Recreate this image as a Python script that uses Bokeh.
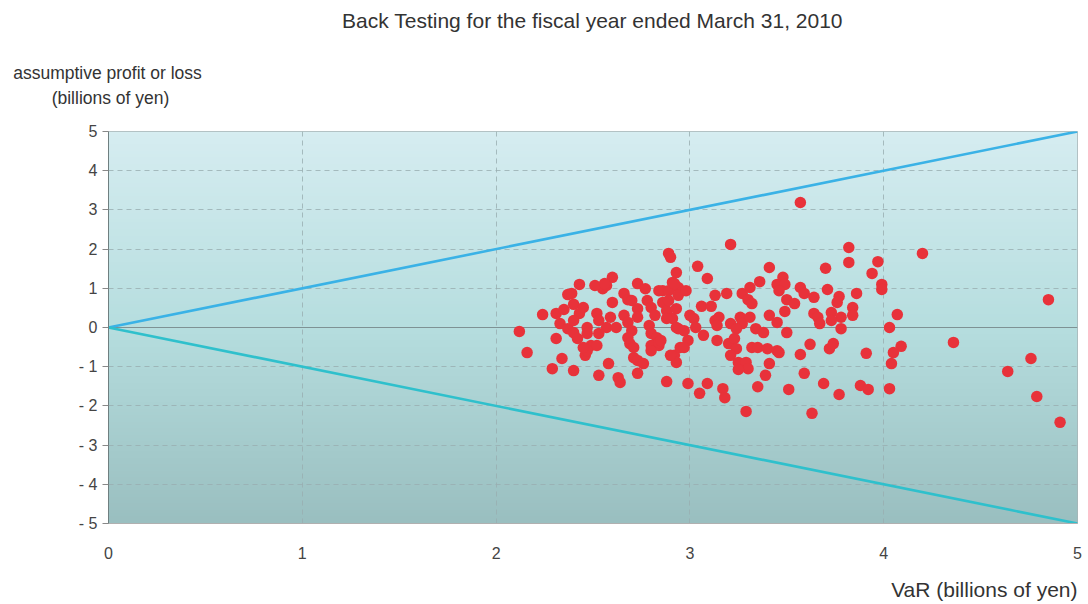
import numpy as np
from bokeh.plotting import figure
from bokeh.models import Span, FixedTicker, Range1d
from bokeh.layouts import column
from bokeh.core.properties import value
from bokeh.embed import file_html
from bokeh.resources import INLINE

# ---- data ----
var_values = [
    2.12, 2.16, 2.29, 2.40, 2.34, 2.24, 2.31, 2.35, 2.37, 2.39, 2.40, 2.43, 2.45, 2.43, 2.33, 2.37,
    2.40, 2.42, 2.40, 2.47, 2.47, 2.52, 2.53, 2.49, 2.52, 2.46, 2.47, 2.58, 2.53, 2.63, 2.64, 2.73,
    2.88, 2.55, 2.57, 2.60, 2.60, 2.59, 2.57, 2.62, 2.66, 2.68, 2.66, 2.68, 2.70, 2.73, 2.73, 2.73,
    2.68, 2.69, 2.71, 2.73, 2.76, 2.71, 2.77, 2.78, 2.80, 2.82, 2.79, 2.80, 2.83, 2.80, 2.84, 2.80,
    2.86, 2.86, 2.89, 2.90, 2.93, 2.91, 2.94, 2.88, 2.91, 2.94, 2.92, 2.93, 2.51, 2.56, 2.70, 2.84,
    2.89, 2.92, 2.94, 2.84, 2.53, 2.95, 2.99, 2.31, 2.45,
    3.57, 3.21, 3.82, 3.82, 3.97, 3.04, 3.41, 3.70, 3.94, 3.09, 3.36, 3.48, 3.45, 3.49, 3.46, 3.57,
    3.59, 3.64, 3.71, 3.77, 3.76, 3.86, 3.84, 3.84, 3.99, 3.99, 3.31, 3.27, 3.30, 3.32, 3.19, 3.13,
    3.50, 3.54, 3.49, 3.06, 3.11, 2.98, 2.89, 2.93, 2.88, 3.00, 3.02, 3.13, 3.15, 3.14, 3.21, 3.26,
    3.27, 3.31, 3.24, 3.41, 3.45, 3.64, 3.66, 3.67, 3.73, 3.78, 3.73, 3.78, 2.93, 2.97, 3.03, 3.07,
    2.85, 2.97, 2.90, 3.14, 3.20, 3.23, 3.24, 3.21, 3.25, 3.29, 3.30, 3.25, 3.32, 3.35, 3.34, 3.38,
    3.40, 3.45, 3.46, 3.41, 3.50, 3.57, 3.62, 3.59, 3.72, 3.74, 3.39, 2.99, 3.05, 3.09, 3.17, 3.18,
    3.35, 3.51, 3.69, 3.77, 3.88, 3.92, 3.29, 3.63, 3.91,
    4.20, 4.07, 4.03, 4.09, 4.05, 4.04, 4.03, 4.36, 4.64, 4.76, 4.79, 4.85, 4.91,
]
profit_loss = [
    -0.10, -0.64, -1.05, -1.10, -0.79, 0.33, 0.36, 0.46, 0.84, 0.87, 0.59, 1.10, 0.51, 0.36, 0.10, -0.03,
    -0.13, -0.28, 0.18, 0.00, -0.15, 0.36, 0.18, -0.46, -0.46, -0.71, -0.59, -0.92, -1.22, -1.28, -1.40, -1.17,
    -1.38, 0.99, 1.07, 1.28, 0.64, 0.26, 0.00, 0.00, 0.87, 0.71, 0.31, 0.13, -0.08, 1.12, 0.48, 0.26,
    -0.26, -0.41, -0.77, -0.84, -0.92, -0.51, 0.99, 0.69, 0.51, 0.31, 0.05, -0.15, -0.26, -0.46, -0.46, -0.59,
    0.94, 0.64, 1.89, 1.79, 1.40, 1.15, 1.02, 0.43, 0.23, -0.03, -0.71, -0.89, 1.07, 1.12, 0.69, 0.94,
    0.94, 1.12, 0.82, -0.38, -0.15, -0.51, -0.33, -0.28, -0.51,
    3.19, 2.12, 2.04, 1.66, 1.68, 1.56, 1.53, 1.51, 1.38, 1.25, 1.17, 1.28, 1.10, 1.10, 0.94, 1.02,
    0.87, 0.77, 0.97, 0.79, 0.64, 0.87, 0.51, 0.31, 1.10, 0.97, 1.02, 0.87, 0.71, 0.61, 0.87, 0.82,
    0.71, 0.61, 0.41, 0.54, 0.54, 0.94, 0.69, 0.48, 0.23, 0.31, 0.23, 0.18, 0.26, 0.05, 0.10, 0.26,
    0.10, 0.26, -0.03, 0.31, 0.13, 0.36, 0.26, 0.10, 0.38, 0.26, 0.18, -0.03, 0.00, -0.08, 0.00, -0.20,
    -0.33, -0.51, -0.71, -0.33, -0.41, -0.28, -0.54, -0.71, -0.89, -0.89, -1.05, -1.07, -0.51, -0.51, -0.03, -0.13,
    -0.54, -0.59, -0.64, -0.92, -0.13, -0.69, -0.43, -1.17, -0.54, -0.41, -1.22, -1.43, -1.68, -1.43, -1.56, -1.79,
    -1.51, -1.58, -1.43, -1.71, -1.48, -1.58, -2.14, -2.19, -0.66,
    1.89, 0.33, 0.00, -0.48, -0.64, -0.92, -1.56, -0.38, -1.12, -0.79, -1.76, 0.71, -2.42,
]
ref_var = [0, 5]
ref_upper = [0, 5]
ref_lower = [0, -5]
x_ticks = [0, 1, 2, 3, 4, 5]
y_ticks = [5, 4, 3, 2, 1, 0, -1, -2, -3, -4, -5]
y_tick_labels = ["5", "4", "3", "2", "1", "0", "- 1", "- 2", "- 3", "- 4", "- 5"]

title_text = "Back Testing for the fiscal year ended March 31, 2010"
ylabel_lines = ["assumptive profit or loss", "(billions of yen)"]
xlabel_text = "VaR (billions of yen)"

FONT = "Liberation Sans"
W = 1084
HEADER_H = 121
FOOTER_H = 34


def text_strip(height):
    f = figure(width=W, height=height, x_range=Range1d(0, W), y_range=Range1d(height, 0),
               output_backend="svg", toolbar_location=None,
               x_axis_location=None, y_axis_location=None,
               min_border=0)
    f.grid.visible = False
    f.outline_line_color = None
    f.background_fill_color = "white"
    f.border_fill_color = "white"
    try:
        f.frame_align = False
    except AttributeError:
        pass
    return f


# ---- header: title and y-axis caption ----
header = text_strip(HEADER_H)
header.text(x=[592], y=[20], text=[title_text], text_font=value(FONT),
            text_font_size="21px", text_color="#333333",
            text_align="center", text_baseline="middle")
header.text(x=[107, 110], y=[72, 97], text=ylabel_lines, text_font=value(FONT),
            text_font_size="17.5px", text_color="#333333",
            text_align="center", text_baseline="middle")

# ---- main chart ----
p = figure(width=W, height=10 + 392 + 45, x_range=(0, 5), y_range=(-5, 5),
           output_backend="svg", toolbar_location=None,
           min_border_left=108, min_border_right=7,
           min_border_top=10, min_border_bottom=45)
p.border_fill_color = "white"
p.outline_line_color = "#a8b4b6"
try:
    p.frame_align = False
except AttributeError:
    pass

# background vertical gradient (decoration)
n = 120
t = np.linspace(0, 1, n)  # 0 bottom -> 1 top
bottom = np.array([154, 191, 192])
mid = np.array([182, 222, 223])
top = np.array([214, 237, 241])
rows = np.where(t[:, None] < 0.5,
                bottom + (mid - bottom) * (t[:, None] / 0.5),
                mid + (top - mid) * ((t[:, None] - 0.5) / 0.5))
img = np.empty((n, 1), dtype=np.uint32)
view = img.view(dtype=np.uint8).reshape((n, 1, 4))
view[:, 0, 0] = rows[:, 0]
view[:, 0, 1] = rows[:, 1]
view[:, 0, 2] = rows[:, 2]
view[:, 0, 3] = 255
p.image_rgba(image=[img], x=0, y=-5, dw=5, dh=10, level="image")

# grid
p.xgrid.ticker = FixedTicker(ticks=x_ticks)
p.ygrid.ticker = FixedTicker(ticks=y_ticks)
for g in (p.xgrid, p.ygrid):
    g.grid_line_color = "#98aeb0"
    g.grid_line_alpha = 0.8
    g.grid_line_dash = "5 4"
    g.grid_line_width = 1

p.add_layout(Span(location=0, dimension="width", line_color="#7e9294",
                  line_width=1.2, level="underlay"))

# reference lines
p.line(ref_var, ref_upper, line_color="#3ab2e6", line_width=2.6)
p.line(ref_var, ref_lower, line_color="#2fc0cc", line_width=2.6)

# points
p.scatter(var_values, profit_loss, size=11.5, fill_color="#e8323a", line_color=None)

# axes
p.xaxis.ticker = FixedTicker(ticks=x_ticks)
p.yaxis.ticker = FixedTicker(ticks=y_ticks)
p.yaxis.major_label_overrides = {v: l for v, l in zip(y_ticks, y_tick_labels)}
p.xaxis.major_tick_out = 0
p.xaxis.major_tick_in = 0
p.xaxis.minor_tick_line_color = None
p.yaxis.minor_tick_line_color = None
p.yaxis.major_tick_out = 6
p.yaxis.major_tick_in = 0
p.yaxis.major_tick_line_color = "#888888"
p.xaxis.axis_line_color = "#b0b0b0"
p.yaxis.axis_line_color = "#6f7f80"
p.xaxis.major_label_standoff = 23
p.yaxis.major_label_standoff = 5
for ax in (p.xaxis, p.yaxis):
    ax.major_label_text_font = FONT
    ax.major_label_text_font_size = "16px"
    ax.major_label_text_color = "#444444"

# ---- footer: x-axis caption ----
footer = text_strip(FOOTER_H)
footer.text(x=[1077], y=[21], text=[xlabel_text], text_font=value(FONT),
            text_font_size="21px", text_color="#333333",
            text_align="right", text_baseline="middle")

layout = column(header, p, footer, spacing=0)
open("out.html", "w").write(file_html(layout, INLINE))
